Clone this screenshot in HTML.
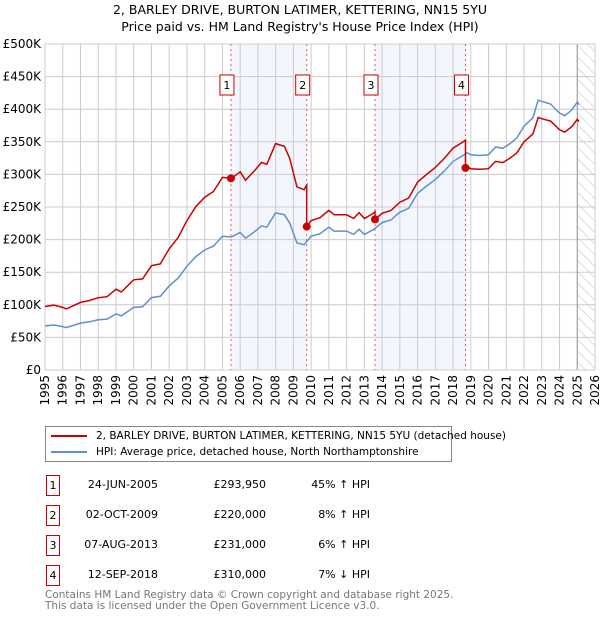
<!DOCTYPE html>
<html><head><meta charset="utf-8"><style>
body{margin:0;background:#fff;font-family:"DejaVu Sans","Liberation Sans",sans-serif;}
#wrap{position:relative;width:600px;height:620px;overflow:hidden}
.t{position:absolute;font-size:12px;color:#000;white-space:nowrap}
</style></head><body><div id="wrap">
<svg id="c" width="600" height="620" style="position:absolute;left:0;top:0"></svg>
<div class="t" style="left:0;width:600px;text-align:center;top:2px;font-size:12.5px">2, BARLEY DRIVE, BURTON LATIMER, KETTERING, NN15 5YU</div>
<div class="t" style="left:0;width:600px;text-align:center;top:19px;font-size:12.5px">Price paid vs. HM Land Registry's House Price Index (HPI)</div>
<div style="position:absolute;left:45px;top:426px;width:407px;height:36px;border:1px solid #888;box-sizing:border-box">
<div style="position:absolute;left:5px;top:3px;font-size:10.5px;white-space:nowrap"><span style="display:inline-block;width:36px;height:2px;background:#cc0000;vertical-align:middle;margin-right:9px"></span>2, BARLEY DRIVE, BURTON LATIMER, KETTERING, NN15 5YU (detached house)</div>
<div style="position:absolute;left:5px;top:19px;font-size:10.5px;white-space:nowrap"><span style="display:inline-block;width:36px;height:2px;background:#5f8fd0;vertical-align:middle;margin-right:9px"></span>HPI: Average price, detached house, North Northamptonshire</div>
</div>
<div id="tbl"></div>
<div class="t" style="left:45px;top:589px;font-size:10.5px;color:#777">Contains HM Land Registry data © Crown copyright and database right 2025.</div>
<div class="t" style="left:45px;top:600px;font-size:10.5px;color:#777">This data is licensed under the Open Government Licence v3.0.</div>
</div>
<script>
const hpiYears=[1995,1995.5,1996,1996.2,1997,1997.5,1998,1998.5,1999,1999.3,2000,2000.5,2001,2001.5,2002,2002.5,2003,2003.5,2004,2004.5,2005,2005.5,2006,2006.3,2006.8,2007.2,2007.5,2008,2008.5,2008.8,2009.2,2009.6,2010,2010.5,2011,2011.3,2012,2012.4,2012.7,2013,2013.5,2014,2014.5,2015,2015.5,2016,2016.5,2017,2017.5,2018,2018.5,2018.8,2019,2019.5,2020,2020.4,2020.8,2021.2,2021.6,2022,2022.5,2022.8,2023,2023.5,2024,2024.3,2024.7,2025,2025.1];
const hpiValues=[67.6,69,66.6,65,72,74,77,78,86,83,96,97,111,113,129,141,159,174,184,190,205,204,211,202,212,221,219,241,238,225,195,192,205,209,219,213,213,208,216,208,215,226,230,242,248,271,282,292,305,320,328,333,330,329,330,342,340,347,356,374,387,414,412,408,394,390,399,411,407];
const saleDates=[2005.48,2009.75,2013.6,2018.7];
const saleLabels=["24-JUN-2005","02-OCT-2009","07-AUG-2013","12-SEP-2018"];
const salePrices=[293950,220000,231000,310000];
const salePriceText=["£293,950","£220,000","£231,000","£310,000"];
const saleHpiText=["45% ↑ HPI","8% ↑ HPI","6% ↑ HPI","7% ↓ HPI"];
const yTicks=[0,50,100,150,200,250,300,350,400,450,500];
const yTickLabels=["£0","£50K","£100K","£150K","£200K","£250K","£300K","£350K","£400K","£450K","£500K"];
const xYears=[1995,1996,1997,1998,1999,2000,2001,2002,2003,2004,2005,2006,2007,2008,2009,2010,2011,2012,2013,2014,2015,2016,2017,2018,2019,2020,2021,2022,2023,2024,2025,2026];

const L=45,R=595,T=44,B=370,X0=1995,X1=2026;
const FF='DejaVu Sans, Liberation Sans, sans-serif';
const sx=y=>L+(y-X0)/(X1-X0)*(R-L);
const sy=v=>B-v/500*(B-T);
const svg=document.getElementById('c');const NS='http://www.w3.org/2000/svg';
function mk(tag,attrs,name){const e=document.createElementNS(NS,tag);for(const k in attrs)e.setAttribute(k,attrs[k]);


svg.appendChild(e);return e;}
function hpiAt(y){for(let i=1;i<hpiYears.length;i++){if(y<=hpiYears[i]){const a=hpiYears[i-1],b=hpiYears[i];return hpiValues[i-1]+(hpiValues[i]-hpiValues[i-1])*(y-a)/(b-a);}}return hpiValues[hpiValues.length-1];}
mk('rect',{x:sx(saleDates[0]),y:T,width:sx(saleDates[1])-sx(saleDates[0]),height:B-T,fill:'#eef3fc',opacity:0.7},'shade-1-2');
mk('rect',{x:sx(saleDates[2]),y:T,width:sx(saleDates[3])-sx(saleDates[2]),height:B-T,fill:'#eef3fc',opacity:0.7},'shade-3-4');
const defs=mk('defs',{},'defs');
defs.innerHTML='<pattern id="h" width="8" height="8" patternUnits="userSpaceOnUse" patternTransform="rotate(-45)"><line x1="0" y1="0" x2="0" y2="8" stroke="#bbb" stroke-width="1"/></pattern>';
mk('rect',{x:sx(2025),y:T,width:R-sx(2025),height:B-T,fill:'url(#h)'},'forecast-hatch');
yTicks.forEach((v,i)=>{mk('line',{x1:L,x2:R,y1:sy(v),y2:sy(v),stroke:'#ccc'},'y-gridline');
const t=mk('text',{x:L-4,y:sy(v)+4,'text-anchor':'end','font-size':12,fill:'#000','font-family':FF},'y-tick-label');t.textContent=yTickLabels[i];});
xYears.forEach(y=>{mk('line',{x1:sx(y),x2:sx(y),y1:T,y2:B,stroke:'#ccc'},'x-gridline');
const t=mk('text',{x:0,y:0,'text-anchor':'end','font-size':12,fill:'#000','font-family':FF,transform:`translate(${sx(y)+4},${B+5}) rotate(-90)`},'x-tick-label');t.textContent=y;});
mk('line',{x1:sx(2025),x2:sx(2025),y1:T,y2:B,stroke:'#999'},'data-end-line');
mk('rect',{x:L,y:T,width:R-L,height:B-T,fill:'none',stroke:'#ccc'},'plot-border');
saleDates.forEach((d,i)=>{mk('line',{x1:sx(d),x2:sx(d),y1:T,y2:B,stroke:'#e06060','stroke-dasharray':'2,3'},'sale-marker-line');
mk('rect',{x:sx(d)-11,y:75,width:14,height:20,fill:'#fff',stroke:'#c00'},'sale-label-box');
const t=mk('text',{x:sx(d)-4,y:89,'text-anchor':'middle','font-size':11,'font-family':FF},'sale-label');t.textContent=i+1;});
const hp=hpiYears.map((y,i)=>`${sx(y).toFixed(1)},${sy(hpiValues[i]).toFixed(1)}`).join(' ');
mk('polyline',{points:hp,fill:'none',stroke:'#5f8fd0','stroke-width':1.5},'hpi-line');
const ratios=saleDates.map((d,i)=>salePrices[i]/1000/hpiAt(d));
let pts=[];
function ratioFor(y){let r=ratios[0];for(let i=0;i<saleDates.length;i++)if(y>=saleDates[i])r=ratios[i];return r;}
const allX=[...hpiYears];saleDates.forEach(d=>{allX.push(d-0.001);allX.push(d);});allX.sort((a,b)=>a-b);
allX.forEach(y=>pts.push(`${sx(y).toFixed(1)},${sy(hpiAt(y)*ratioFor(y)).toFixed(1)}`));
mk('polyline',{points:pts.join(' '),fill:'none',stroke:'#cc0000','stroke-width':1.5},'property-price-line');
saleDates.forEach((d,i)=>mk('circle',{cx:sx(d),cy:sy(salePrices[i]/1000),r:4,fill:'#cc0000'},'sale-point'));
const tbl=document.getElementById('tbl');
saleDates.forEach((d,i)=>{const top=475+i*30;const row=document.createElement('div');


row.style.cssText=`position:absolute;left:0;top:${top}px;width:600px;height:22px;font-size:11px`;
row.innerHTML=`<div style="position:absolute;left:46px;top:0;width:12px;height:19px;border:1px solid #c00;text-align:center;line-height:19px">${i+1}</div>
<div style="position:absolute;left:68px;width:90px;text-align:right;top:3px">${saleLabels[i]}</div>
<div style="position:absolute;left:196px;width:70px;text-align:right;top:3px">${salePriceText[i]}</div>
<div style="position:absolute;left:290px;width:80px;text-align:right;top:3px">${saleHpiText[i]}</div>`;
tbl.appendChild(row);});
</script></body></html>
